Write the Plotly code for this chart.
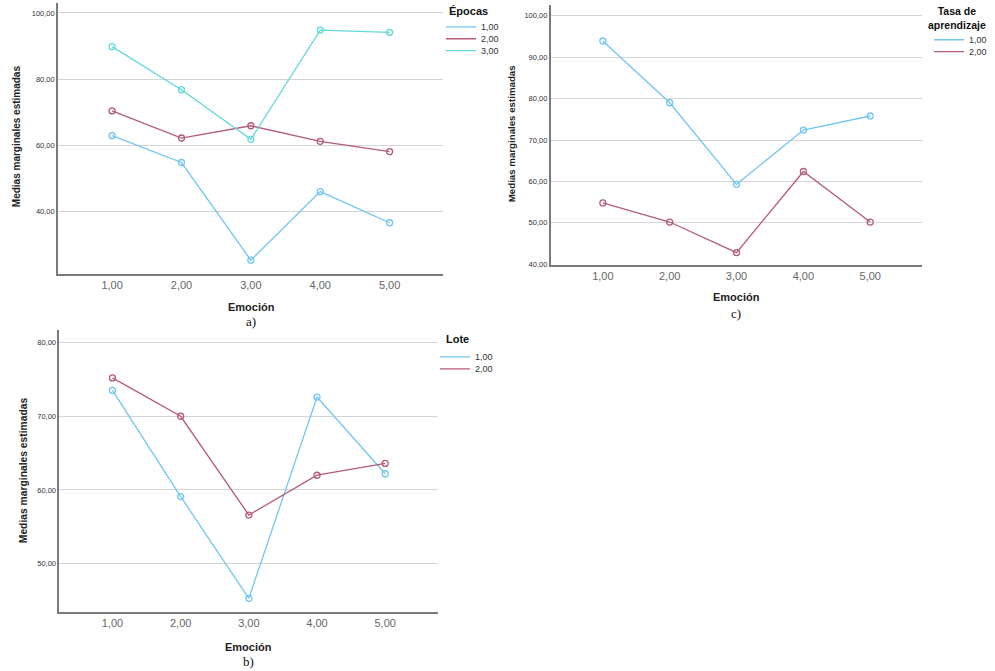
import plotly.graph_objects as go

# ---------------- data ----------------
emocion = [1, 2, 3, 4, 5]
emocion_labels = ["1,00", "2,00", "3,00", "4,00", "5,00"]

# a) Épocas
epocas_names = ["1,00", "2,00", "3,00"]
epocas_1 = [62.9, 54.8, 25.3, 46.0, 36.6]
epocas_2 = [70.4, 62.2, 65.9, 61.2, 58.1]
epocas_3 = [89.8, 76.8, 61.8, 94.8, 94.1]
ticks_a = [40, 60, 80, 100]
ticklabels_a = ["40,00", "60,00", "80,00", "100,00"]

# c) Tasa de aprendizaje
tasa_names = ["1,00", "2,00"]
tasa_1 = [93.9, 79.0, 59.3, 72.4, 75.8]
tasa_2 = [54.8, 50.2, 42.8, 62.4, 50.2]
ticks_c = [40, 50, 60, 70, 80, 90, 100]
ticklabels_c = ["40,00", "50,00", "60,00", "70,00", "80,00", "90,00", "100,00"]

# b) Lote
lote_names = ["1,00", "2,00"]
lote_1 = [73.5, 59.1, 45.3, 72.6, 62.2]
lote_2 = [75.2, 70.0, 56.6, 62.0, 63.6]
ticks_b = [50, 60, 70, 80]
ticklabels_b = ["50,00", "60,00", "70,00", "80,00"]

BLUE = "#72c6f4"
RED = "#b65a7c"
TEAL = "#62dada"

FONT = "Liberation Sans"
W, H = 995, 671

fig = go.Figure()


def add_series(xa, ya, ys, names, colors, legends):
    for y, n, c, lg in zip(ys, names, colors, legends):
        fig.add_trace(go.Scatter(
            x=emocion, y=y, mode="lines", name=n,
            line=dict(color=c, width=1.3),
            xaxis=xa, yaxis=ya, legend=lg, hoverinfo="skip"))
    for y, n, c, lg in zip(ys, names, colors, legends):
        fig.add_trace(go.Scatter(
            x=emocion, y=y, mode="markers", name=n, showlegend=False,
            marker=dict(symbol="circle-open", size=6, color=c,
                        line=dict(width=1.3, color=c)),
            xaxis=xa, yaxis=ya, legend=lg))


add_series("x", "y", [epocas_1, epocas_2, epocas_3], epocas_names,
           [BLUE, RED, TEAL], ["legend", "legend2", "legend3"])
add_series("x2", "y2", [tasa_1, tasa_2], tasa_names, [BLUE, RED],
           ["legend4", "legend5"])
add_series("x3", "y3", [lote_1, lote_2], lote_names, [BLUE, RED],
           ["legend6", "legend7"])

xcommon = dict(tickvals=emocion, ticktext=emocion_labels, range=[0.22, 5.77],
               showgrid=False, zeroline=False, showline=True,
               linecolor="#7a7a7a", linewidth=1.6, ticks="",
               tickfont=dict(family=FONT, size=11, color="#666666"))
ycommon = dict(showgrid=True, gridcolor="#d4d4d4", gridwidth=1.3,
               zeroline=False, showline=True, linecolor="#7a7a7a",
               linewidth=1.6, ticks="",
               tickfont=dict(family=FONT, size=7.5, color="#333333"))


def leg(xp, yp):
    return dict(x=xp / W, y=1 - yp / H, xanchor="left", yanchor="middle",
                bgcolor="rgba(0,0,0,0)", borderwidth=0,
                font=dict(family=FONT, size=9, color="#333333"))


fig.update_layout(
    width=W, height=H,
    margin=dict(l=0, r=0, t=0, b=0),
    paper_bgcolor="white", plot_bgcolor="white",
    font=dict(family=FONT, color="#222222"),
    showlegend=True,
    xaxis=dict(domain=[58 / W, 443 / W], anchor="y", **xcommon),
    yaxis=dict(domain=[1 - 275.7 / H, 1 - 3 / H], anchor="x",
               range=[21.1, 103], tickvals=ticks_a, ticktext=ticklabels_a,
               **ycommon),
    xaxis2=dict(domain=[550.7 / W, 921.7 / W], anchor="y2", **xcommon),
    yaxis2=dict(domain=[1 - 266.7 / H, 1 - 5 / H], anchor="x2",
                range=[39.8, 102.6], tickvals=ticks_c, ticktext=ticklabels_c,
                **ycommon),
    xaxis3=dict(domain=[59.3 / W, 437.7 / W], anchor="y3", **xcommon),
    yaxis3=dict(domain=[1 - 616 / H, 1 - 332 / H], anchor="x3",
                range=[43.4, 81.7], tickvals=ticks_b, ticktext=ticklabels_b,
                **ycommon),
    legend=leg(441, 27),
    legend2=leg(441, 39),
    legend3=leg(441, 51),
    legend4=leg(929, 40),
    legend5=leg(929, 52),
    legend6=leg(435, 359),
    legend7=leg(435, 371),
)

ann = []


def ytitle(xp, yp, size):
    ann.append(dict(text="<b>Medias marginales estimadas</b>", textangle=-90,
                    x=xp / W, y=1 - yp / H, xref="paper", yref="paper",
                    showarrow=False, xanchor="center", yanchor="middle",
                    font=dict(family=FONT, size=size, color="#222222")))


def xtitle(xp, yp, label, yl):
    ann.append(dict(text="<b>Emoción</b>", x=xp / W, y=1 - yp / H,
                    xref="paper", yref="paper", showarrow=False,
                    xanchor="center", yanchor="middle",
                    font=dict(family=FONT, size=11, color="#222222")))
    ann.append(dict(text=label, x=xp / W, y=1 - yl / H,
                    xref="paper", yref="paper", showarrow=False,
                    xanchor="center", yanchor="middle",
                    font=dict(family="Liberation Serif", size=13,
                              color="#111111")))


def ltitle(text, xp, yp, xanchor, size=11):
    ann.append(dict(text=text, x=xp / W, y=1 - yp / H, xref="paper",
                    yref="paper", showarrow=False, xanchor=xanchor,
                    yanchor="middle", align="center",
                    font=dict(family=FONT, size=size, color="#111111")))


ytitle(16, 137, 10)
ytitle(511, 135, 9.7)
ytitle(23, 473, 10.3)
xtitle(251, 309, "a)", 323)
xtitle(736, 299, "c)", 315)
xtitle(248, 651, "b)", 665)
ltitle("<b>Épocas</b>", 447, 11, "left")
ltitle("<b>Tasa de<br>aprendizaje</b>", 957, 18, "center", 10.5)
ltitle("<b>Lote</b>", 444, 341, "left")

fig.update_layout(annotations=ann)

fig.write_html(
    "out.html",
    config={"displayModeBar": False},
    post_script="document.body.style.margin='0';"
                "document.body.style.overflow='hidden';",
)
